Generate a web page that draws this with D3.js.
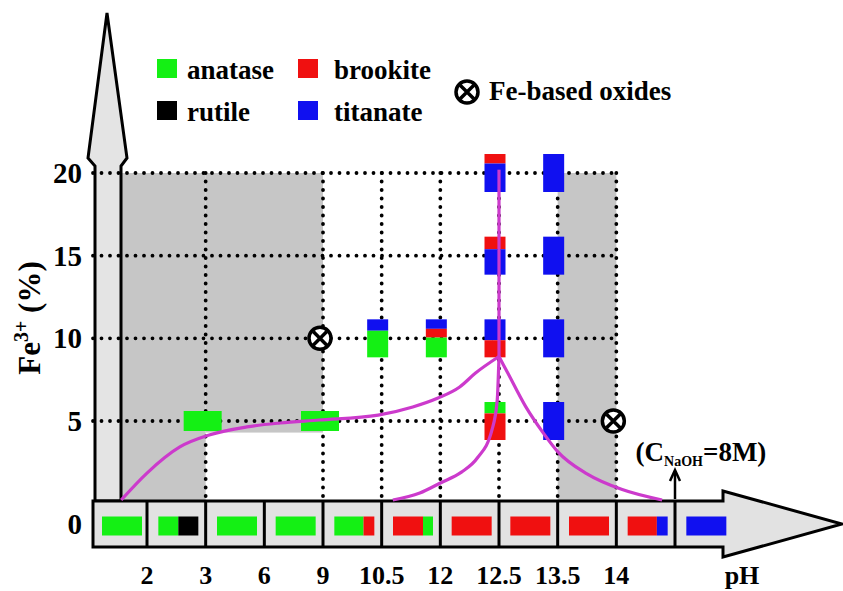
<!DOCTYPE html>
<html>
<head>
<meta charset="utf-8">
<script src="https://cdn.jsdelivr.net/npm/d3@7"></script>
<style>
  body { margin: 0; background: #fff; }
  svg text { font-family: "Liberation Serif", "Times New Roman", serif; font-weight: bold; fill: #000; }
</style>
</head>
<body>
<svg id="chart" width="843" height="591"></svg>
<script>
// pH tick labels sit on the cell dividers of the horizontal arrow
const pHLabels = ["2", "3", "6", "9", "10.5", "12", "12.5", "13.5", "14"];
const feTicks = [5, 10, 15, 20];

const phaseColor = {
  anatase: "#14f014",
  rutile: "#000000",
  brookite: "#f01010",
  titanate: "#1010f0"
};

// Fe = 0 row, one cell per compartment of the pH arrow, [phase, share] left to right
const zeroRow = [
  [["anatase", 1]],
  [["anatase", 0.5], ["rutile", 0.5]],
  [["anatase", 1]],
  [["anatase", 1]],
  [["anatase", 0.73], ["brookite", 0.27]],
  [["brookite", 0.75], ["anatase", 0.25]],
  [["brookite", 1]],
  [["brookite", 1]],
  [["brookite", 1]],
  [["brookite", 0.73], ["titanate", 0.27]],
  [["titanate", 1]]
];

// doped samples: pH index, Fe %, phases top to bottom
const doped = [
  { ph: 1, fe: 5, parts: [["anatase", 1]] },
  { ph: 3, fe: 5, parts: [["anatase", 1]] },
  { ph: 4, fe: 10, parts: [["titanate", 0.3], ["anatase", 0.7]] },
  { ph: 5, fe: 10, parts: [["titanate", 0.25], ["brookite", 0.23], ["anatase", 0.52]] },
  { ph: 6, fe: 20, parts: [["brookite", 0.25], ["titanate", 0.75]] },
  { ph: 6, fe: 15, parts: [["brookite", 0.33], ["titanate", 0.67]] },
  { ph: 6, fe: 10, parts: [["titanate", 0.55], ["brookite", 0.45]] },
  { ph: 6, fe: 5, parts: [["anatase", 0.3], ["brookite", 0.7]] },
  { ph: 7, fe: 20, parts: [["titanate", 1]] },
  { ph: 7, fe: 15, parts: [["titanate", 1]] },
  { ph: 7, fe: 10, parts: [["titanate", 1]] },
  { ph: 7, fe: 5, parts: [["titanate", 1]] }
];

// Fe-based oxides: [pH index, Fe %]
const oxides = [[3, 10], [8, 5]];

// phase boundary curves, [pH index, Fe %]
const vertLine = [[6, 20.2], [6, 8.9]];
const leftCurve = [[-0.44, 0.22], [0, 1.85], [0.56, 3.43], [1.06, 4.15], [1.7, 4.64], [2.27, 4.88],
  [2.93, 5.06], [3.94, 5.36], [4.53, 5.85], [4.96, 6.39], [5.33, 7.06], [5.6, 7.9], [6, 8.9]];
const lowCurve = [[4.19, 0.22], [4.65, 0.64], [5.0, 1.25], [5.36, 1.91], [5.63, 2.76], [5.88, 4.46],
  [5.97, 6.27], [6, 8.9]];
const rightCurve = [[6, 8.9], [6.15, 7.9], [6.45, 5.9], [6.75, 4.3], [7.0, 3.15], [7.5, 1.8],
  [8.1, 0.85], [8.78, 0.22]];

// shaded zones: [pH index from (null = axis), pH index to, Fe from, Fe to]
const zones = [[null, 1, 0, 20], [1, 3, 4.3, 20], [7, 8, 0, 20]];
const gridPH = [1, 3, 4, 5, 6, 7, 8];

const legendItems = [
  ["anatase", 0, 0], ["rutile", 0, 1], ["brookite", 1, 0], ["titanate", 1, 1]
];

const svg = d3.select("#chart");

const shaftL = 95, shaftR = 121, arrowL = 93, arrowTop = 501, arrowBot = 547;
const headX = 723, tipX = 842, rowY = (arrowTop + arrowBot) / 2;

const x = d3.scaleLinear().domain([0, 9]).range([147, 675]);
const y = d3.scaleLinear().domain([5, 20]).range([421, 173]);

// shaded zones
svg.append("g").selectAll("rect")
  .data(zones)
  .enter().append("rect")
  .attr("x", d => d[0] === null ? shaftR : x(d[0]))
  .attr("width", d => x(d[1]) - (d[0] === null ? shaftR : x(d[0])))
  .attr("y", d => y(d[3]))
  .attr("height", d => Math.min(y(d[2]), arrowTop) - y(d[3]))
  .attr("fill", "#c6c6c6");

// vertical arrow
svg.append("polygon")
  .attr("points", [[shaftL, arrowTop], [shaftL, 166], [88, 158], [107, 13], [127, 158], [shaftR, 166], [shaftR, arrowTop]].join(" "))
  .attr("fill", "#e4e4e4")
  .attr("stroke", "#000")
  .attr("stroke-width", 3)
  .attr("stroke-linejoin", "miter");

// dotted grid
const dotted = g => g.attr("stroke", "#000").attr("stroke-width", 3.8)
  .attr("stroke-linecap", "round").attr("stroke-dasharray", "0 8.5");

svg.append("g").selectAll("line")
  .data(feTicks)
  .enter().append("line")
  .attr("x1", arrowL).attr("x2", x(8))
  .attr("y1", d => y(d)).attr("y2", d => y(d))
  .call(dotted);

svg.append("g").selectAll("line")
  .data(gridPH)
  .enter().append("line")
  .attr("x1", d => x(d)).attr("x2", d => x(d))
  .attr("y1", y(20)).attr("y2", arrowTop - 3)
  .call(dotted);

// horizontal pH arrow
svg.append("polygon")
  .attr("points", [[arrowL, arrowTop], [headX, arrowTop], [headX, 491], [tipX, rowY], [headX, 557], [headX, arrowBot], [arrowL, arrowBot]].join(" "))
  .attr("fill", "#e2e2e2")
  .attr("stroke", "#000")
  .attr("stroke-width", 3)
  .attr("stroke-linejoin", "miter");

svg.append("g").selectAll("line")
  .data(d3.range(0, 10))
  .enter().append("line")
  .attr("x1", d => x(d)).attr("x2", d => x(d))
  .attr("y1", arrowTop).attr("y2", arrowBot)
  .attr("stroke", "#000").attr("stroke-width", 3);

// Fe = 0 phase bars inside the cells
const cellW = 40, cellH = 19;
zeroRow.forEach((parts, k) => {
  const left = Math.max(x(k - 1), arrowL), right = x(k);
  let cx = (left + right) / 2 - cellW / 2 + 2;
  parts.forEach(([phase, share]) => {
    svg.append("rect")
      .attr("x", cx).attr("y", rowY + 2 - cellH / 2)
      .attr("width", cellW * share).attr("height", cellH)
      .attr("fill", phaseColor[phase]);
    cx += cellW * share;
  });
});

// doped sample bars
doped.forEach(d => {
  const wide = d.parts.length === 1 && d.parts[0][0] === "anatase";
  const w = wide ? 38 : 21, h = wide ? 20 : 38;
  const cx = x(d.ph) - (wide ? 3 : 4);
  let top = y(d.fe) - h / 2;
  d.parts.forEach(([phase, share]) => {
    svg.append("rect")
      .attr("x", cx - w / 2).attr("y", top)
      .attr("width", w).attr("height", h * share)
      .attr("fill", phaseColor[phase]);
    top += h * share;
  });
});

// phase boundaries
const smooth = d3.line().x(d => x(d[0])).y(d => y(d[1])).curve(d3.curveMonotoneX);
const straight = d3.line().x(d => x(d[0])).y(d => y(d[1]));
const boundary = svg.append("g")
  .attr("fill", "none")
  .attr("stroke", "#cc3acc")
  .attr("stroke-width", 3.2);
boundary.append("path").attr("d", straight(vertLine));
[leftCurve, lowCurve, rightCurve].forEach(c => boundary.append("path").attr("d", smooth(c)));

// oxide marker
const oxideMark = (g, cx, cy) => {
  const r = 11, a = r * 0.62;
  g.append("circle").attr("cx", cx).attr("cy", cy).attr("r", r)
    .attr("fill", "#fff").attr("stroke", "#000").attr("stroke-width", 3.5);
  g.append("path")
    .attr("d", `M${cx - a},${cy - a}L${cx + a},${cy + a}M${cx + a},${cy - a}L${cx - a},${cy + a}`)
    .attr("stroke", "#000").attr("stroke-width", 3.5);
};
oxides.forEach(([ph, fe]) => oxideMark(svg, x(ph) - 3, y(fe)));

// y tick labels
svg.append("g").selectAll("text")
  .data(feTicks)
  .enter().append("text")
  .attr("x", 82).attr("y", d => y(d) + 10)
  .attr("text-anchor", "end")
  .attr("font-size", 29)
  .text(d => d);
svg.append("text").attr("x", 82).attr("y", rowY + 10)
  .attr("text-anchor", "end").attr("font-size", 29).text("0");

// pH tick labels
svg.append("g").selectAll("text")
  .data(pHLabels)
  .enter().append("text")
  .attr("x", (d, i) => x(i))
  .attr("y", 584)
  .attr("text-anchor", "middle")
  .attr("font-size", 26)
  .text(d => d);

svg.append("text").attr("x", 742).attr("y", 584)
  .attr("text-anchor", "middle").attr("font-size", 26).text("pH");

// y axis title
const yTitle = svg.append("text")
  .attr("transform", "translate(40,318) rotate(-90)")
  .attr("text-anchor", "middle")
  .attr("font-size", 31);
yTitle.append("tspan").text("Fe");
yTitle.append("tspan").attr("dy", -12).attr("font-size", 20).text("3+");
yTitle.append("tspan").attr("dy", 12).text(" (%)");

// NaOH note
const note = svg.append("text").attr("x", 701).attr("y", 461)
  .attr("text-anchor", "middle").attr("font-size", 27);
note.append("tspan").text("(C");
note.append("tspan").attr("dy", 5).attr("font-size", 14).text("NaOH");
note.append("tspan").attr("dy", -5).text("=8M)");

svg.append("line")
  .attr("x1", x(9)).attr("x2", x(9))
  .attr("y1", arrowTop - 2).attr("y2", 473)
  .attr("stroke", "#000").attr("stroke-width", 2.5);
svg.append("path")
  .attr("d", `M${x(9) - 5},${481}L${x(9)},${470}L${x(9) + 5},${481}`)
  .attr("fill", "none").attr("stroke", "#000").attr("stroke-width", 2.5);

// legend
const legend = svg.append("g");
legendItems.forEach(([name, col, row]) => {
  const lx = 157 + col * 141, ly = 59 + row * 42;
  legend.append("rect").attr("x", lx).attr("y", ly).attr("width", 20).attr("height", 19)
    .attr("fill", phaseColor[name]);
  legend.append("text").attr("x", lx + (col ? 36 : 30)).attr("y", ly + 20)
    .attr("font-size", 27).text(name);
});
oxideMark(legend, 467, 92);
legend.append("text").attr("x", 489).attr("y", 100).attr("font-size", 27).text("Fe-based oxides");
</script>
</body>
</html>
